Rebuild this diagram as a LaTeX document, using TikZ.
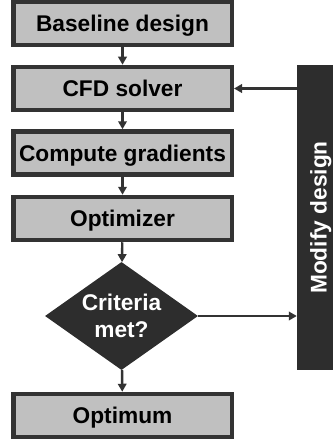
\documentclass[tikz,border=0pt]{standalone}
\usepackage{fontspec}
\setmainfont{Liberation Sans}
\usetikzlibrary{arrows.meta,shapes.geometric}
\definecolor{boxfill}{HTML}{C0C0C0}
\definecolor{edge}{HTML}{333333}
\definecolor{darkfill}{HTML}{2D2D2D}
\tikzset{
  txt/.style={font=\bfseries\fontsize{22.7}{28}\selectfont},
  stepbox/.style={txt, draw=edge, fill=boxfill, line width=4.5pt,
    minimum width=218.5pt, minimum height=43pt, inner sep=0pt,
    text height=16.3pt, text depth=0pt},
  decision/.style={diamond, fill=darkfill, inner sep=0pt,
    minimum width=153pt, minimum height=108pt},
  bar/.style={txt, fill=darkfill, text=white, inner sep=0pt,
    text height=16.3pt, text depth=0pt},
  arr/.style={draw=edge, line width=2.4pt, -{Triangle[length=8pt,width=8.5pt]}}
}
\begin{document}
\begin{tikzpicture}[x=1pt,y=-1pt]
  \useasboundingbox (0,0) rectangle (332,441);
  % main chain of steps
  \node[stepbox] (base) at (122.5,23.5)  {Baseline design};
  \node[stepbox] (cfd)  at (122.5,88.5)  {CFD solver};
  \node[stepbox] (grad) at (122.5,153)   {Compute gradients};
  \node[stepbox] (opt)  at (122.5,218.5) {Optimizer};
  \node[decision] (crit) at (121.5,316) {};
  \node[txt, text=white, align=center] at (crit.center) {Criteria\\[-1pt]met?};
  \node[stepbox] (optimum) at (122.5,415.5) {Optimum};
  % feedback bar
  \node[bar, rotate=90, minimum width=305pt, minimum height=43pt]
    (modify) at (318.5,217.5) {Modify design};
  % connectors
  \draw[arr] (base) -- (cfd);
  \draw[arr] (cfd) -- (grad);
  \draw[arr] (grad) -- (opt);
  \draw[arr] (opt) -- (crit);
  \draw[arr] (crit) -- (optimum);
  \draw[arr] (crit.east) -- (crit.east -| modify.north);
  \draw[arr] (modify.north |- cfd.east) -- (cfd.east);
\end{tikzpicture}
\end{document}
